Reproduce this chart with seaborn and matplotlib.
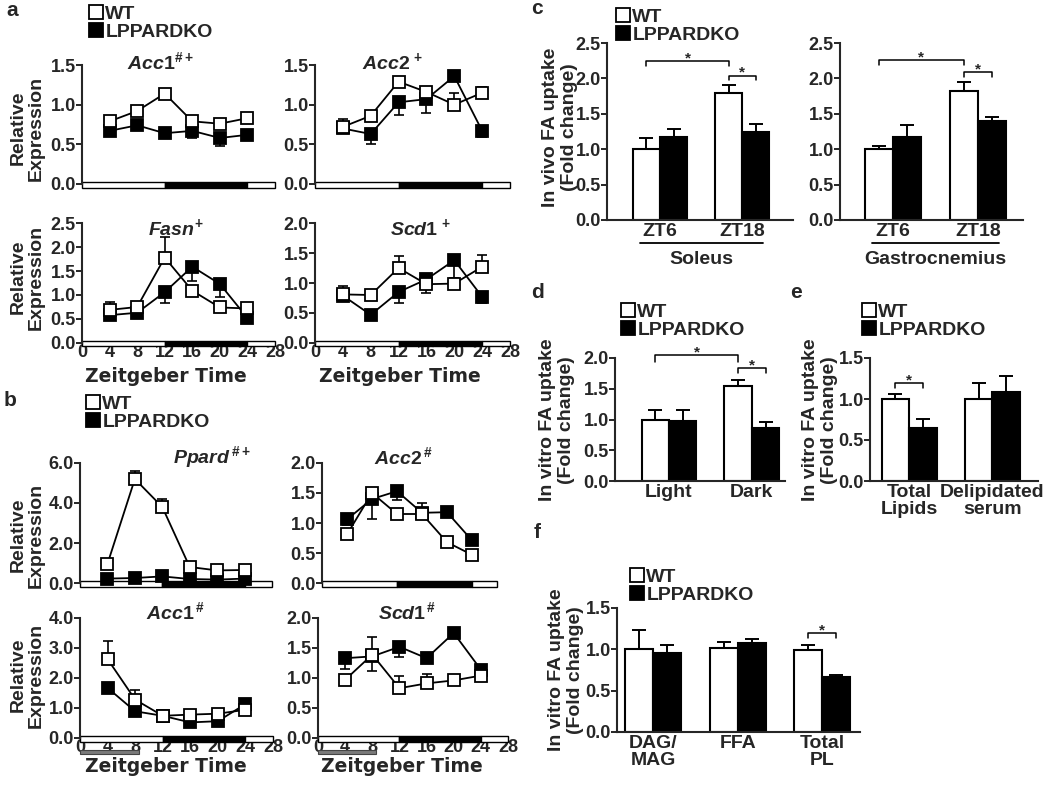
import numpy as np
import pandas as pd
import matplotlib
matplotlib.use("Agg")
import matplotlib.pyplot as plt
import matplotlib.transforms as mtransforms
from matplotlib.patches import Rectangle, Patch
import seaborn as sns

sns.set_style("ticks")
plt.rcParams["font.family"] = ["Liberation Sans", "DejaVu Sans"]
plt.rcParams["font.weight"] = "bold"
plt.rcParams["mathtext.fontset"] = "custom"
plt.rcParams["mathtext.it"] = "Liberation Sans:italic:bold"
plt.rcParams["mathtext.rm"] = "Liberation Sans:bold"
plt.rcParams["mathtext.bf"] = "Liberation Sans:bold"

# ---------------- data ----------------
zt = [4, 8, 12, 16, 20, 24]
groups = ["WT", "LPPARDKO"]
light_dark = [(0, 12, "white"), (12, 12, "black"), (24, 4, "white")]
feeding = (0, 8.5)

# signed errors: positive = drawn upward, negative = drawn downward
a_acc1_wt = [0.79, 0.92, 1.14, 0.79, 0.76, 0.83]
a_acc1_ko = [0.67, 0.74, 0.64, 0.67, 0.58, 0.62]
a_acc1_wt_err = [0.05, 0.03, 0.06, 0.03, 0.04, 0.03]
a_acc1_ko_err = [-0.03, 0.05, -0.03, -0.09, -0.10, -0.03]

a_acc2_wt = [0.72, 0.86, 1.29, 1.16, 1.00, 1.15]
a_acc2_ko = [0.70, 0.63, 1.03, 1.07, 1.36, 0.67]
a_acc2_wt_err = [0.10, 0.03, 0.06, 0.03, 0.15, 0.07]
a_acc2_ko_err = [-0.05, -0.13, -0.16, -0.17, 0.04, -0.08]

a_fasn_wt = [0.69, 0.75, 1.78, 1.09, 0.74, 0.72]
a_fasn_ko = [0.58, 0.63, 1.06, 1.59, 1.23, 0.52]
a_fasn_wt_err = [0.17, 0.03, 0.42, 0.05, 0.03, 0.03]
a_fasn_ko_err = [-0.03, -0.03, -0.22, -0.30, -0.27, -0.03]

a_scd1_wt = [0.81, 0.80, 1.25, 0.98, 0.99, 1.27]
a_scd1_ko = [0.79, 0.47, 0.85, 1.06, 1.38, 0.77]
a_scd1_wt_err = [0.03, 0.03, 0.20, -0.15, 0.03, 0.19]
a_scd1_ko_err = [0.16, -0.09, -0.18, 0.03, -0.30, -0.10]

b_ppard_wt = [0.95, 5.20, 3.80, 0.80, 0.63, 0.65]
b_ppard_ko = [0.22, 0.25, 0.33, 0.20, 0.17, 0.22]
b_ppard_wt_err = [0.10, 0.40, 0.40, 0.10, 0.10, 0.10]
b_ppard_ko_err = [0.05, 0.05, 0.05, 0.05, 0.05, 0.05]

b_acc2_wt = [0.81, 1.50, 1.15, 1.15, 0.68, 0.47]
b_acc2_ko = [1.06, 1.40, 1.53, 1.17, 1.18, 0.71]
b_acc2_wt_err = [0.05, 0.06, 0.03, 0.18, 0.03, 0.03]
b_acc2_ko_err = [-0.10, -0.33, -0.15, -0.05, 0.03, 0.03]

b_acc1_wt = [2.63, 1.28, 0.74, 0.78, 0.81, 0.94]
b_acc1_ko = [1.67, 0.89, 0.74, 0.52, 0.56, 1.13]
b_acc1_wt_err = [0.60, 0.33, 0.05, 0.05, 0.05, 0.05]
b_acc1_ko_err = [-0.05, -0.05, -0.05, -0.05, -0.05, -0.05]

b_scd1_wt = [0.97, 1.39, 0.83, 0.91, 0.96, 1.04]
b_scd1_ko = [1.33, 1.36, 1.52, 1.33, 1.75, 1.14]
b_scd1_wt_err = [0.03, 0.30, 0.20, 0.15, 0.03, 0.03]
b_scd1_ko_err = [-0.18, -0.25, -0.17, -0.08, 0.03, -0.05]

c_cats = ["ZT6", "ZT18"]
c_sol_wt, c_sol_ko = [1.00, 1.80], [1.17, 1.25]
c_sol_wt_err, c_sol_ko_err = [0.16, 0.11], [0.12, 0.11]
c_gas_wt, c_gas_ko = [1.00, 1.82], [1.17, 1.40]
c_gas_wt_err, c_gas_ko_err = [0.04, 0.13], [0.17, 0.05]

d_cats = ["Light", "Dark"]
d_wt, d_ko = [1.00, 1.55], [0.97, 0.86]
d_wt_err, d_ko_err = [0.15, 0.10], [0.19, 0.10]

e_cats = ["Total\nLipids", "Delipidated\nserum"]
e_wt, e_ko = [1.00, 1.00], [0.65, 1.09]
e_wt_err, e_ko_err = [0.06, 0.19], [0.11, 0.19]

f_cats = ["DAG/\nMAG", "FFA", "Total\nPL"]
f_wt, f_ko = [1.00, 1.02, 0.99], [0.95, 1.08, 0.66]
f_wt_err, f_ko_err = [0.23, 0.07, 0.06], [0.10, 0.04, 0.03]

# significance: (cat1, hue1, cat2, hue2, height, tip)
c_sol_sig = [(0, 0, 1, 0, 2.24, 0.07), (1, 0, 1, 1, 2.04, 0.06)]
c_gas_sig = [(0, 0, 1, 0, 2.26, 0.07), (1, 0, 1, 1, 2.09, 0.07)]
d_sig = [(0, 0, 1, 0, 2.05, 0.11), (1, 0, 1, 1, 1.84, 0.09)]
e_sig = [(0, 0, 0, 1, 1.20, 0.07)]
f_sig = [(2, 0, 2, 1, 1.20, 0.06)]

# ---------------- figure ----------------
W, H = 1050, 788
fig = plt.figure(figsize=(W / 100, H / 100), dpi=100)


def add_ax(x0, y0, x1, y1):
    return fig.add_axes([x0 / W, 1 - y1 / H, (x1 - x0) / W, (y1 - y0) / H])


def fpos(x, y):
    return x / W, 1 - y / H


def style_y(ax, ticks):
    ax.set_ylim(ticks[0], ticks[-1])
    ax.set_yticks(ticks)
    ax.set_yticklabels([f"{t:.1f}" for t in ticks])
    ax.tick_params(axis="y", length=4, width=1.4, pad=0.5, labelsize=13)
    for s in ["top", "right"]:
        ax.spines[s].set_visible(False)
    ax.spines["left"].set_linewidth(1.5)
    ax.spines["bottom"].set_linewidth(1.5)


def line_panel(box, wt, ko, wt_err, ko_err, yticks, xlabels=False, gray=False):
    ax = add_ax(*box)
    hpx = box[3] - box[1]
    for vals, errs, face in [(ko, ko_err, "black"), (wt, wt_err, "white")]:
        up = [e if e > 0 else 0 for e in errs]
        dn = [-e if e < 0 else 0 for e in errs]
        ax.errorbar(zt, vals, yerr=[dn, up], fmt="none", ecolor="black",
                    elinewidth=1.2, capsize=3.5, capthick=1.2, zorder=2, clip_on=False)
        sns.lineplot(x=zt, y=vals, ax=ax, color="black", lw=1.3, marker="s",
                     markersize=8, markerfacecolor=face, markeredgecolor="black",
                     markeredgewidth=1.3, zorder=3, clip_on=False)
    ax.set_xlim(0, 28)
    style_y(ax, yticks)
    ax.spines["bottom"].set_visible(False)
    trans = mtransforms.blended_transform_factory(ax.transData, ax.transAxes)
    for start, width, c in light_dark:
        ax.add_patch(Rectangle((start, -3.5 / hpx), width, 5.5 / hpx, transform=trans,
                               facecolor=c, edgecolor="black", lw=1.0, clip_on=False, zorder=1))
    if xlabels:
        ax.set_xticks(range(0, 29, 4))
        ax.tick_params(axis="x", length=0, pad=0.5, labelsize=13)
    else:
        ax.set_xticks([])
    if gray:
        ax.add_patch(Rectangle((feeding[0], -16 / hpx), feeding[1] - feeding[0], 4.5 / hpx,
                               transform=trans, facecolor="#7a7a7a", edgecolor="#444444",
                               lw=0.8, clip_on=False, zorder=1))
    ax.set_xlabel("")
    ax.set_ylabel("")
    return ax


def bar_panel(box, cats, wt, ko, wt_err, ko_err, xlim, yticks, sig, width=0.66):
    ax = add_ax(*box)
    df = pd.DataFrame({"cat": cats * 2,
                       "group": [groups[0]] * len(cats) + [groups[1]] * len(cats),
                       "val": wt + ko})
    sns.barplot(data=df, x="cat", y="val", hue="group", order=cats, hue_order=groups,
                palette={groups[0]: "white", groups[1]: "black"}, edgecolor="black",
                linewidth=1.5, width=width, errorbar=None, legend=False, ax=ax, zorder=2)
    xs = np.arange(len(cats))
    offs = [-width / 4, width / 4]
    for k, (vals, errs) in enumerate([(wt, wt_err), (ko, ko_err)]):
        ax.errorbar(xs + offs[k], vals, yerr=[np.zeros(len(cats)), errs], fmt="none",
                    ecolor="black", elinewidth=1.4, capsize=5, capthick=1.4, zorder=1)
    ax.set_xlim(*xlim)
    style_y(ax, yticks)
    ax.set_xticks(xs)
    ax.set_xticklabels(cats, linespacing=1.05)
    ax.tick_params(axis="x", length=0, pad=2, labelsize=14)
    ax.set_xlabel("")
    ax.set_ylabel("")
    for c1, h1, c2, h2, y, tip in sig:
        x1, x2 = c1 + offs[h1], c2 + offs[h2]
        ax.plot([x1, x1, x2, x2], [y - tip, y, y, y - tip], color="black", lw=1.1,
                clip_on=False)
        ax.annotate("*", xy=((x1 + x2) / 2, y), xytext=(0, -1), textcoords="offset points",
                    ha="center", va="baseline", fontsize=11, annotation_clip=False)
    return ax


def legend(x, y):
    handles = [Patch(facecolor="white", edgecolor="black", lw=1.3),
               Patch(facecolor="black", edgecolor="black", lw=1.3)]
    fig.legend(handles, groups, loc="upper left", bbox_to_anchor=fpos(x, y),
               frameon=False, handlelength=0.72, handleheight=0.72, handletextpad=0.12,
               labelspacing=0.02, borderpad=0, borderaxespad=0,
               prop={"weight": "bold", "size": 14})


def ylab(x, y, text):
    fig.text(*fpos(x, y), text, rotation=90, ha="center", va="center",
             fontsize=14, linespacing=1.1, multialignment="center")


def label(x, y, text, size=14, **kw):
    fig.text(*fpos(x, y), text, ha="center", va="center", fontsize=size, **kw)


def zt_label(x, y):
    label(x, y, "Zeitgeber Time", 13.5, family="DejaVu Sans")


# ---- panel a ----
line_panel((82, 65, 275, 184), a_acc1_wt, a_acc1_ko, a_acc1_wt_err, a_acc1_ko_err,
           [0, 0.5, 1.0, 1.5])
line_panel((315, 65, 510, 184), a_acc2_wt, a_acc2_ko, a_acc2_wt_err, a_acc2_ko_err,
           [0, 0.5, 1.0, 1.5])
line_panel((82, 223, 275, 343), a_fasn_wt, a_fasn_ko, a_fasn_wt_err, a_fasn_ko_err,
           [0, 0.5, 1.0, 1.5, 2.0, 2.5], xlabels=True)
line_panel((315, 223, 510, 343), a_scd1_wt, a_scd1_ko, a_scd1_wt_err, a_scd1_ko_err,
           [0, 0.5, 1.0, 1.5, 2.0], xlabels=True)
label(160, 62, r"$\mathit{Acc1}^{\#+}$", 14)
label(393, 62, r"$\mathit{Acc2}^{\,+}$", 14)
label(176, 228, r"$\mathit{Fasn}^{+}$", 14)
label(420, 228, r"$\mathit{Scd1}^{\,+}$", 14)
ylab(27, 128, "Relative\nExpression")
ylab(27, 277, "Relative\nExpression")
zt_label(166, 376)
zt_label(400, 376)
legend(89, 5)
label(12, 10, "a", 15)

# ---- panel b ----
line_panel((80, 463, 272, 583), b_ppard_wt, b_ppard_ko, b_ppard_wt_err, b_ppard_ko_err,
           [0, 2.0, 4.0, 6.0])
line_panel((322, 463, 497, 583), b_acc2_wt, b_acc2_ko, b_acc2_wt_err, b_acc2_ko_err,
           [0, 0.5, 1.0, 1.5, 2.0])
line_panel((80, 618, 273, 738), b_acc1_wt, b_acc1_ko, b_acc1_wt_err, b_acc1_ko_err,
           [0, 1.0, 2.0, 3.0, 4.0], xlabels=True, gray=True)
line_panel((318, 618, 508, 738), b_scd1_wt, b_scd1_ko, b_scd1_wt_err, b_scd1_ko_err,
           [0, 0.5, 1.0, 1.5, 2.0], xlabels=True, gray=True)
label(212, 457, r"$\mathit{Ppard}^{\,\#+}$", 14)
label(403, 457, r"$\mathit{Acc2}^{\,\#}$", 14)
label(175, 612, r"$\mathit{Acc1}^{\,\#}$", 14)
label(407, 612, r"$\mathit{Scd1}^{\,\#}$", 14)
ylab(27, 535, "Relative\nExpression")
ylab(27, 675, "Relative\nExpression")
zt_label(166, 767)
zt_label(402, 767)
legend(86, 395)
label(10, 401, "b", 15)

# ---- panel c ----
ax_c1 = bar_panel((607, 43, 793, 220), c_cats, c_sol_wt, c_sol_ko, c_sol_wt_err,
                  c_sol_ko_err, (-0.646, 1.62), [0, 0.5, 1.0, 1.5, 2.0, 2.5], c_sol_sig)
ax_c2 = bar_panel((840, 43, 1023, 220), c_cats, c_gas_wt, c_gas_ko, c_gas_wt_err,
                  c_gas_ko_err, (-0.62, 1.53), [0, 0.5, 1.0, 1.5, 2.0, 2.5], c_gas_sig)
for ax, tissue in [(ax_c1, "Soleus"), (ax_c2, "Gastrocnemius")]:
    tr = mtransforms.blended_transform_factory(ax.transData, ax.transAxes)
    ax.plot([-0.24, 1.25], [-0.13, -0.13], color="black", lw=1.3, transform=tr,
            clip_on=False)
    ax.text(0.5, -0.225, tissue, transform=tr, ha="center", va="center", fontsize=14)
ylab(560, 127, "In vivo FA uptake\n(Fold change)")
legend(616, 8)
label(537, 8, "c", 15)

# ---- panels d, e ----
bar_panel((615, 358, 785, 481), d_cats, d_wt, d_ko, d_wt_err, d_ko_err, (-0.65, 1.40),
          [0, 0.5, 1.0, 1.5, 2.0], d_sig)
bar_panel((870, 358, 1038, 481), e_cats, e_wt, e_ko, e_wt_err, e_ko_err, (-0.47, 1.55),
          [0, 0.5, 1.0, 1.5], e_sig)
ylab(557, 420, "In vitro FA uptake\n(Fold change)")
ylab(820, 420, "In vitro FA uptake\n(Fold change)")
legend(621, 303)
legend(862, 303)
label(537, 293, "d", 15)
label(796, 293, "e", 15)

# ---- panel f ----
bar_panel((617, 608, 860, 732), f_cats, f_wt, f_ko, f_wt_err, f_ko_err, (-0.43, 2.45),
          [0, 0.5, 1.0, 1.5], f_sig)
ylab(566, 670, "In vitro FA uptake\n(Fold change)")
legend(630, 568)
label(537, 533, "f", 15)

fig.savefig("out.png", dpi=100)
